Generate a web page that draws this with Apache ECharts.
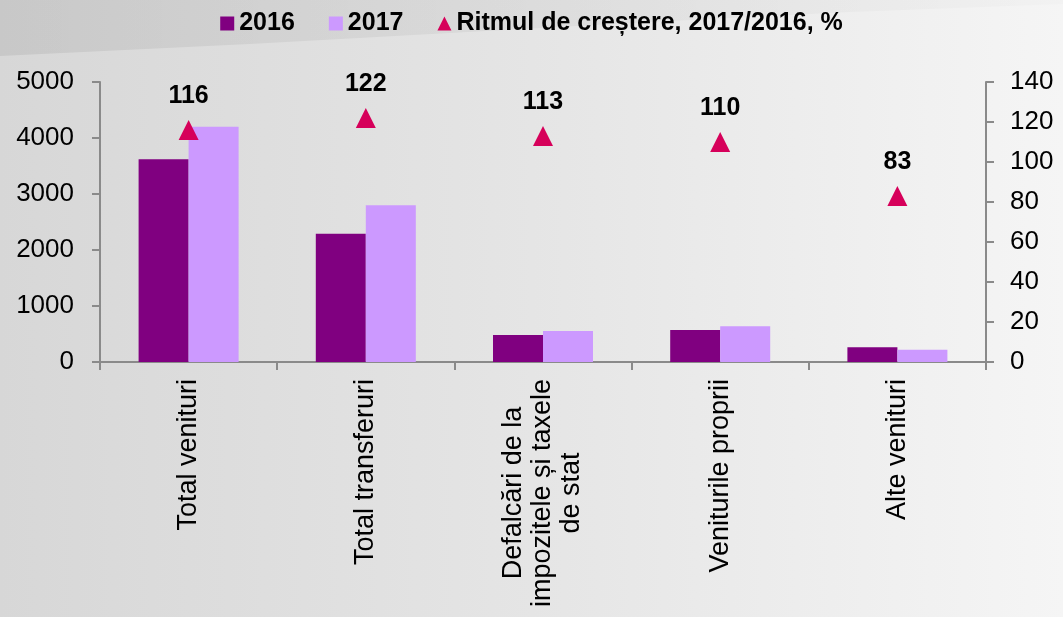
<!DOCTYPE html>
<html>
<head>
<meta charset="utf-8">
<script src="https://cdn.jsdelivr.net/npm/echarts@6/dist/echarts.min.js"></script>
<style>
  html, body { margin: 0; padding: 0; }
  #chart { width: 1063px; height: 617px; }
</style>
</head>
<body>
<div id="chart"></div>
<script>
// categories and values
const categories = ['Total venituri', 'Total transferuri', 'Defalcări de la\nimpozitele și taxele\nde stat', 'Veniturile proprii', 'Alte venituri']
const values2016 = [3620, 2290, 480, 570, 265]
const values2017 = [4200, 2800, 555, 640, 218]
const growthRate = [116, 122, 113, 110, 83]
const leftTicks = [0, 5000, 1000]
const rightTicks = [0, 140, 20]

const chart = echarts.init(document.getElementById('chart'))
const font = 'Arial, "Liberation Sans", sans-serif'
const axisGrey = '#8a8a8a'

const option = {
  backgroundColor: new echarts.graphic.LinearGradient(0, 0, 1, 0, [
    { offset: 0, color: '#d7d7d7' },
    { offset: 0.5, color: '#e5e5e5' },
    { offset: 1, color: '#f5f5f5' }
  ]),
  textStyle: { fontFamily: font },
  // darker swoosh across the top
  graphic: [
    {
      type: 'polygon',
      z: 0,
      silent: true,
      shape: {
        points: [[0, 0], [1063, 0], [1063, 4], [850, 12], [650, 22], [450, 33], [250, 44], [0, 56]]
      },
      style: {
        fill: new echarts.graphic.LinearGradient(0, 0, 1, 0, [
          { offset: 0, color: 'rgba(0,0,0,0.07)' },
          { offset: 1, color: 'rgba(0,0,0,0.01)' }
        ])
      }
    }
  ],
  legend: {
    top: 6,
    left: 'center',
    itemWidth: 14,
    itemHeight: 14,
    itemGap: 34,
    textStyle: { fontSize: 25, fontWeight: 'bold', color: '#000', fontFamily: font },
    data: [
      { name: '2016', icon: 'rect' },
      { name: '2017', icon: 'rect' },
      { name: 'Ritmul de creștere, 2017/2016, %', icon: 'triangle', itemStyle: { color: '#d6005a' } }
    ]
  },
  grid: { left: 100, right: 77, top: 82, bottom: 255 },
  xAxis: {
    type: 'category',
    data: categories,
    axisLine: { lineStyle: { color: axisGrey, width: 2 } },
    axisTick: { show: true, length: 8, lineStyle: { color: axisGrey, width: 2 } },
    axisLabel: {
      rotate: 90,
      interval: 0,
      margin: 17,
      color: '#000',
      fontSize: 27,
      lineHeight: 29,
      formatter: function (v) {
        return v.split('\n').map(function (s) { return '{c|' + s + '}' }).join('\n')
      },
      rich: { c: { align: 'center', fontSize: 27, lineHeight: 29, color: '#000' } }
    }
  },
  yAxis: [
    {
      type: 'value',
      min: leftTicks[0],
      max: leftTicks[1],
      interval: leftTicks[2],
      splitLine: { show: false },
      axisLine: { show: true, lineStyle: { color: axisGrey, width: 2 } },
      axisTick: { show: true, length: 8, lineStyle: { color: axisGrey, width: 2 } },
      axisLabel: { color: '#000', fontSize: 26, margin: 26, formatter: function (v) { return String(v) } }
    },
    {
      type: 'value',
      min: rightTicks[0],
      max: rightTicks[1],
      interval: rightTicks[2],
      splitLine: { show: false },
      axisLine: { show: true, lineStyle: { color: axisGrey, width: 2 } },
      axisTick: { show: true, length: 8, lineStyle: { color: axisGrey, width: 2 } },
      axisLabel: { color: '#000', fontSize: 26, margin: 24 }
    }
  ],
  series: [
    {
      name: '2016',
      type: 'bar',
      data: values2016,
      barWidth: 50,
      barGap: '0%',
      itemStyle: { color: '#800080' }
    },
    {
      name: '2017',
      type: 'bar',
      data: values2017,
      barWidth: 50,
      itemStyle: { color: '#cc99ff' }
    },
    {
      name: 'Ritmul de creștere, 2017/2016, %',
      type: 'line',
      yAxisIndex: 1,
      data: growthRate,
      lineStyle: { width: 0, opacity: 0 },
      symbol: 'triangle',
      symbolSize: 20,
      itemStyle: { color: '#d6005a' },
      label: {
        show: true,
        position: 'top',
        distance: 11,
        fontSize: 25,
        fontWeight: 'bold',
        color: '#000'
      }
    }
  ]
}

chart.setOption(option)
</script>
</body>
</html>
